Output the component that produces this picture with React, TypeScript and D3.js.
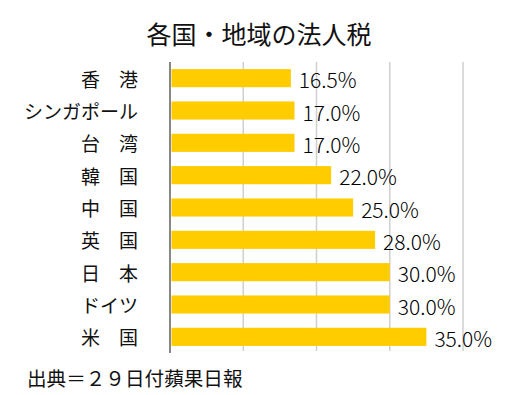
import * as d3 from "d3";
import React from "react";

const categories = ["香　港", "シンガポール", "台　湾", "韓　国", "中　国", "英　国", "日　本", "ドイツ", "米　国"];
const rates = [16.5, 17.0, 17.0, 22.0, 25.0, 28.0, 30.0, 30.0, 35.0];
const gridTicks = [0, 10, 20, 30, 40];

const W = 528;
const H = 395;
const margin = { top: 62, left: 170, right: 65, bottom: 42 };
const font = "'Noto Sans CJK JP', 'Noto Sans', sans-serif";

const App = () => {
  const x = d3.scaleLinear().domain([0, 40]).range([margin.left, W - margin.right]);
  const y = d3
    .scaleBand<string>()
    .domain(categories)
    .range([margin.top, H - margin.bottom])
    .paddingInner(0.44)
    .paddingOuter(0.22);

  return (
    <svg width={W} height={H} style={{ position: "absolute", left: 0, top: 0, background: "#fff" }}>
      <text x={259} y={33} textAnchor="middle" dominantBaseline="central" fontFamily={font} fontSize={25} fill="#111">
        各国・地域の法人税
      </text>

      {/* グリッド線 */}
      {gridTicks.slice(1).map((t) => (
        <line key={t} x1={x(t)} x2={x(t)} y1={margin.top} y2={H - margin.bottom - 2} stroke="#cfcfcf" strokeWidth={1.5} />
      ))}

      {categories.map((c, i) => (
        <g key={c}>
          <rect x={x(0) + 1.5} y={y(c)} width={x(rates[i]) - x(0) - 1.5} height={y.bandwidth()} fill="#FFCC00" />
          <text
            x={x(rates[i]) + 8}
            y={(y(c) as number) + y.bandwidth() / 2 + 1}
            dominantBaseline="central"
            fontFamily={font}
            fontSize={21}
            fontWeight={300}
            fill="#000"
          >
            {rates[i].toFixed(1)}%
          </text>
          <text
            x={138}
            y={(y(c) as number) + y.bandwidth() / 2}
            textAnchor="end"
            dominantBaseline="central"
            fontFamily={font}
            fontSize={19}
            fill="#111"
          >
            {c}
          </text>
        </g>
      ))}

      <line x1={x(0)} x2={x(0)} y1={margin.top} y2={H - margin.bottom} stroke="#888" strokeWidth={2} />

      <text x={27} y={377} dominantBaseline="central" fontFamily={font} fontSize={19.6} fill="#111">
        出典＝２９日付蘋果日報
      </text>
    </svg>
  );
};

export default App;
